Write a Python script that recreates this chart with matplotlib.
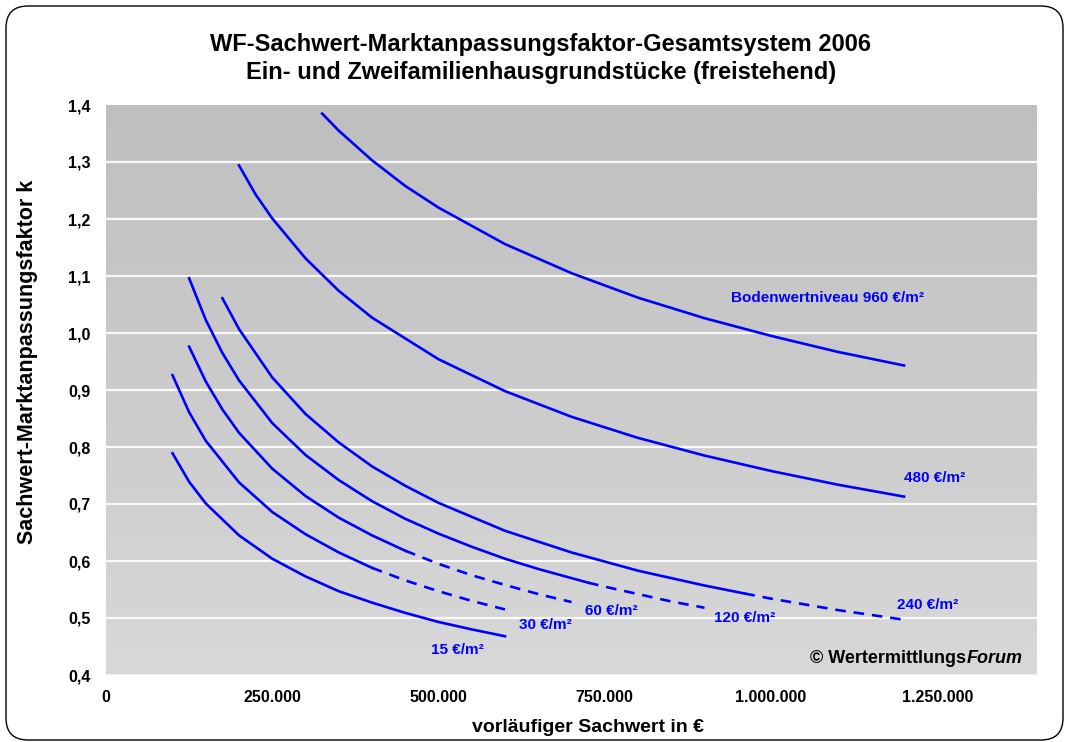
import matplotlib
matplotlib.use('Agg')
import matplotlib.pyplot as plt
import numpy as np
from matplotlib.patches import FancyBboxPatch
from matplotlib.colors import LinearSegmentedColormap

plt.rcParams['font.family'] = ['Liberation Sans', 'DejaVu Sans']
plt.rcParams['font.weight'] = 'bold'

# vorläufiger Sachwert (EUR) and Marktanpassungsfaktor k per Bodenwertniveau
x_15 = [100000, 125000, 150000, 200000, 250000, 300000, 350000, 400000,
        450000, 500000, 550000, 600000]
k_15 = [0.789, 0.739, 0.701, 0.645, 0.604, 0.573, 0.547, 0.527,
        0.509, 0.493, 0.480, 0.468]

x_30 = [100000, 125000, 150000, 200000, 250000, 300000, 350000, 400000,
        450000, 500000, 550000, 600000]
k_30 = [0.926, 0.861, 0.811, 0.738, 0.686, 0.647, 0.615, 0.588,
        0.566, 0.547, 0.530, 0.515]

x_60 = [125000, 150000, 175000, 200000, 250000, 300000, 350000, 400000,
        450000, 500000, 550000, 600000, 650000, 700000]
k_60 = [0.976, 0.915, 0.866, 0.825, 0.762, 0.714, 0.676, 0.645,
        0.618, 0.595, 0.575, 0.558, 0.542, 0.528]

x_120 = [125000, 150000, 175000, 200000, 250000, 300000, 350000, 400000,
         450000, 500000, 550000, 600000, 650000, 700000, 725000, 750000,
         800000, 850000, 900000]
k_120 = [1.096, 1.023, 0.965, 0.917, 0.842, 0.786, 0.742, 0.705,
         0.674, 0.648, 0.625, 0.604, 0.586, 0.570, 0.562, 0.555,
         0.542, 0.529, 0.518]

x_240 = [175000, 200000, 250000, 300000, 350000, 400000, 450000, 500000,
         600000, 700000, 800000, 900000, 960000, 1000000, 1100000, 1200000]
k_240 = [1.061, 1.007, 0.922, 0.858, 0.808, 0.766, 0.732, 0.702,
         0.653, 0.615, 0.583, 0.557, 0.543, 0.534, 0.514, 0.497]

x_480 = [200000, 225000, 250000, 300000, 350000, 400000, 500000, 600000,
         700000, 800000, 900000, 1000000, 1100000, 1200000]
k_480 = [1.294, 1.243, 1.201, 1.131, 1.074, 1.027, 0.954, 0.898,
         0.853, 0.816, 0.785, 0.758, 0.734, 0.713]

x_960 = [325000, 350000, 400000, 450000, 500000, 600000, 700000, 800000,
         900000, 1000000, 1100000, 1200000]
k_960 = [1.385, 1.355, 1.303, 1.258, 1.220, 1.156, 1.105, 1.062,
         1.026, 0.995, 0.967, 0.943]

# from this Sachwert on the curve is drawn dashed (None = solid throughout)
dash_from = {'15': None, '30': 400000, '60': 450000, '120': 725000,
             '240': 960000, '480': None, '960': None}

x_ticks = [0, 250000, 500000, 750000, 1000000, 1250000]
x_ticklabels = ['0', '250.000', '500.000', '750.000', '1.000.000', '1.250.000']
y_ticks = [0.4, 0.5, 0.6, 0.7, 0.8, 0.9, 1.0, 1.1, 1.2, 1.3, 1.4]

BLUE = '#0000ff'
LW = 1.9

fig = plt.figure(figsize=(10.69, 7.42), dpi=100)
ax = fig.add_axes([106 / 1069, 1 - 675 / 742, 931 / 1069, 570 / 742])

# rounded frame around the whole chart
frame = FancyBboxPatch((0.06, 0.02), 10.57, 7.34, boxstyle='round,pad=0,rounding_size=0.22',
                       transform=fig.dpi_scale_trans, fill=False, ec='black', lw=1.0)
fig.patches.append(frame)

# grey gradient plot area, darker at the top
grad = np.linspace(0, 1, 256).reshape(-1, 1)
ax.imshow(grad, cmap=LinearSegmentedColormap.from_list('bg', ['#bfbfbf', '#d8d8d8']),
          aspect='auto', extent=[0, 1, 0, 1], origin='upper',
          transform=ax.transAxes, zorder=0)

ax.set_xlim(0, 1400000)
ax.set_ylim(0.4, 1.4)
for y in y_ticks[:-1]:
    ax.axhline(y, color='white', lw=1.6, alpha=0.9 if y > 0.4 else 0.6, zorder=1)

series = [('15', x_15, k_15), ('30', x_30, k_30), ('60', x_60, k_60),
          ('120', x_120, k_120), ('240', x_240, k_240),
          ('480', x_480, k_480), ('960', x_960, k_960)]
for name, xs, ks in series:
    xs = np.asarray(xs)
    ks = np.asarray(ks)
    cut = dash_from[name]
    if cut is None:
        ax.plot(xs, ks, color=BLUE, lw=LW, zorder=3)
    else:
        ax.plot(xs[xs <= cut], ks[xs <= cut], color=BLUE, lw=LW, zorder=3)
        ax.plot(xs[xs >= cut], ks[xs >= cut], color=BLUE, lw=LW, ls=(0, (4, 3)),
                zorder=3)

labels = [('Bodenwertniveau 960 €/m²', 940000, 1.061),
          ('480 €/m²', 1200000, 0.745),
          ('240 €/m²', 1190000, 0.523),
          ('120 €/m²', 915000, 0.500),
          ('60 €/m²', 721000, 0.512),
          ('30 €/m²', 621000, 0.488),
          ('15 €/m²', 489000, 0.444)]
for txt, x, y in labels:
    ax.text(x, y, txt, color=BLUE, fontsize=11, ha='left', va='center', zorder=4)

# copyright: "Forum" in italics, right edge near the plot's right border
forum = ax.text(1378000, 0.4295, 'Forum', fontsize=13, ha='right', va='center',
                style='italic', color='black', zorder=4)
fig.canvas.draw()
w_pt = forum.get_window_extent().width * 72 / fig.dpi
ax.annotate('© Wertermittlungs', xy=(1378000, 0.4295), xytext=(-w_pt, 0),
            textcoords='offset points', fontsize=13, ha='right', va='center',
            color='black', zorder=4)

ax.set_xticks(x_ticks)
ax.set_xticklabels(x_ticklabels)
ax.set_yticks(y_ticks)
ax.set_yticklabels([f'{v:.1f}'.replace('.', ',') for v in y_ticks])
ax.tick_params(length=0, labelsize=11.5)
ax.tick_params(axis='y', pad=11)
ax.tick_params(axis='x', pad=11)
for s in ax.spines.values():
    s.set_visible(False)

ax.set_xlabel('vorläufiger Sachwert in €', fontsize=14, fontweight='bold')
ax.xaxis.set_label_coords((588 - 106) / 931, (675 - 727) / 570)
ax.xaxis.label.set_va('center')
ax.set_ylabel('Sachwert-Marktanpassungsfaktor k', fontsize=15.5, fontweight='bold')
ax.yaxis.set_label_coords((28 - 106) / 931, (675 - 362) / 570)
ax.yaxis.label.set_va('center')

fig.text(541 / 1069, 1 - 44 / 742, 'WF-Sachwert-Marktanpassungsfaktor-Gesamtsystem 2006',
         fontsize=17, ha='center', va='center')
fig.text(541 / 1069, 1 - 73 / 742, 'Ein- und Zweifamilienhausgrundstücke (freistehend)',
         fontsize=17, ha='center', va='center')

fig.savefig('out.png', dpi=100)
